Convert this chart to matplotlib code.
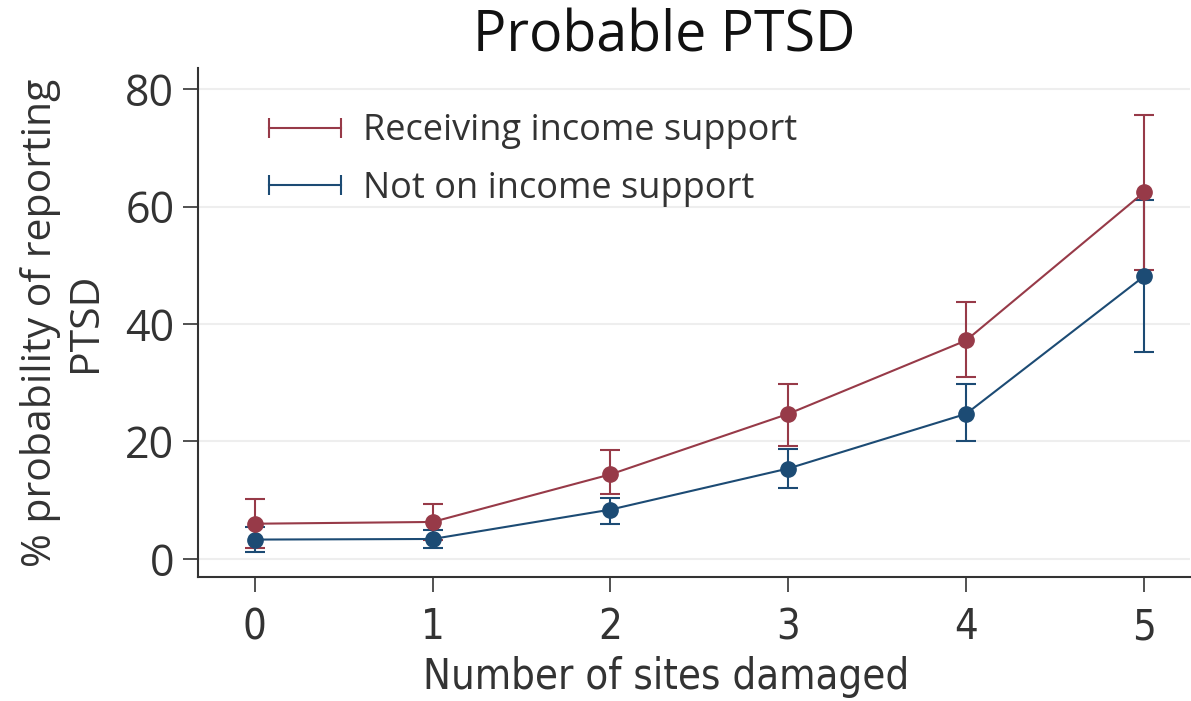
import matplotlib.pyplot as plt
from matplotlib.lines import Line2D
from matplotlib import font_manager

plt.rcParams["font.family"] = ["Open Sans", "DejaVu Sans"]

sites = [0, 1, 2, 3, 4, 5]

# receiving income support
rec_mean = [6.0, 6.3, 14.4, 24.7, 37.2, 62.4]
rec_low = [1.9, 3.3, 11.0, 19.2, 30.9, 49.2]
rec_high = [10.2, 9.3, 18.5, 29.8, 43.7, 75.6]

# not on income support
not_mean = [3.3, 3.4, 8.4, 15.4, 24.7, 48.1]
not_low = [1.2, 1.8, 5.9, 12.0, 20.1, 35.3]
not_high = [5.4, 5.0, 10.3, 18.8, 29.8, 61.1]

y_ticks = [0, 20, 40, 60, 80]

RED = "#973a48"
BLUE = "#1c4b74"

# narrow font for the x axis, if one is around
names = {f.name for f in font_manager.fontManager.ttflist}
narrow = "Liberation Sans Narrow" if "Liberation Sans Narrow" in names else "DejaVu Sans"
narrow_stretch = "normal" if narrow == "Liberation Sans Narrow" else "condensed"

fig = plt.figure(figsize=(11.91, 7.01), dpi=100)
ax = fig.add_axes([0.1662, 0.177, 0.833, 0.726])

for mean, lo, hi, col in [(not_mean, not_low, not_high, BLUE),
                          (rec_mean, rec_low, rec_high, RED)]:
    err = [[m - l for m, l in zip(mean, lo)], [h - m for m, h in zip(mean, hi)]]
    ax.errorbar(sites, mean, yerr=err, color=col, lw=1.5, elinewidth=1.5,
                capsize=7, capthick=1.5, marker="o", markersize=11, zorder=3)

ax.set_xlim(-0.32, 5.26)
ax.set_ylim(-3.06, 83.6)
ax.set_xticks(sites)
ax.set_yticks(y_ticks)
ax.grid(axis="y", color="#eeeeee", lw=1.5)
ax.set_axisbelow(True)

for s in ["top", "right"]:
    ax.spines[s].set_visible(False)
ax.spines["left"].set_linewidth(1.5)
ax.spines["bottom"].set_linewidth(1.5)
ax.spines["left"].set_color("#333333")
ax.spines["bottom"].set_color("#333333")
ax.tick_params(axis="both", length=11, width=1.2, color="#333333",
               labelcolor="#333333")
ax.tick_params(axis="y", labelsize=31, pad=6)
ax.tick_params(axis="x", labelsize=30, pad=10)
for lab in ax.get_xticklabels():
    lab.set_family([narrow, "DejaVu Sans"])
    lab.set_stretch(narrow_stretch)

ax.set_title("Probable PTSD", fontsize=40, color="#111111", pad=12, x=0.47)
ax.set_xlabel("Number of sites damaged", fontsize=30, color="#333333",
              family=[narrow, "DejaVu Sans"], stretch=narrow_stretch, labelpad=6)
ax.xaxis.label.set_x(0.472)
ax.set_ylabel("% probability of reporting\nPTSD", fontsize=29.5, color="#333333",
              labelpad=14, linespacing=1.15)

handles = [Line2D([], [], color=RED, lw=1.5, marker="|", markersize=14, mew=1.5),
           Line2D([], [], color=BLUE, lw=1.5, marker="|", markersize=14, mew=1.5)]
leg = ax.legend(handles, ["Receiving income support", "Not on income support"],
                loc="upper left", bbox_to_anchor=(0.028, 0.975), frameon=False,
                numpoints=2, fontsize=26, handlelength=2.6, handletextpad=0.3,
                labelspacing=0.6, labelcolor="#333333")

fig.savefig("out.png", dpi=100)
